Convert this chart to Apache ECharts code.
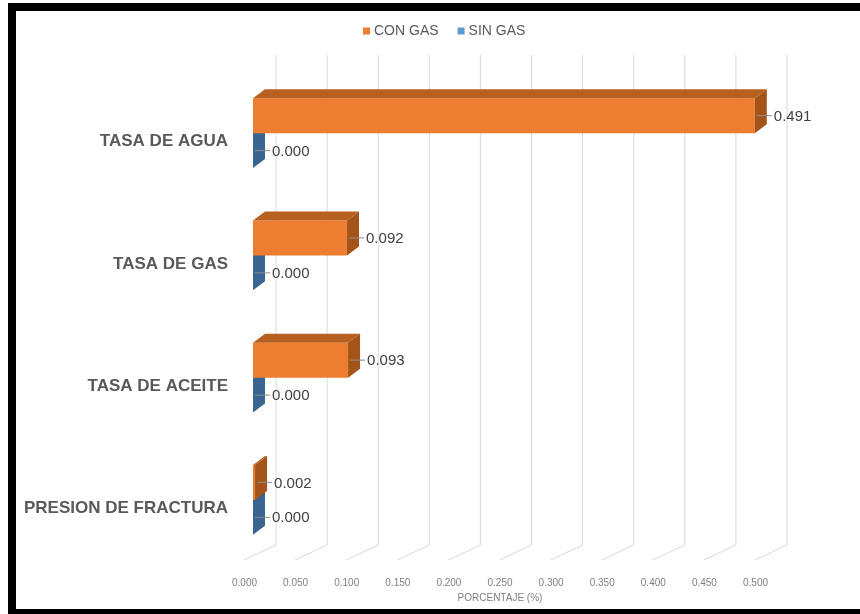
<!DOCTYPE html>
<html>
<head>
<meta charset="utf-8">
<script src="https://cdn.jsdelivr.net/npm/echarts@6/dist/echarts.min.js"></script>
<style>
html,body{margin:0;padding:0;background:#fff;}
#chart{width:860px;height:614px;}
</style>
</head>
<body>
<div id="chart"></div>
<script>
var categories = ['TASA DE AGUA', 'TASA DE GAS', 'TASA DE ACEITE', 'PRESION DE FRACTURA'];
var conGas = [0.491, 0.092, 0.093, 0.002];
var sinGas = [0.000, 0.000, 0.000, 0.000];
var xTicks = [0, 0.05, 0.1, 0.15, 0.2, 0.25, 0.3, 0.35, 0.4, 0.45, 0.5];
var seriesNames = ['CON GAS', 'SIN GAS'];

var DX = 12, DY = -9;
var colors = {
  'CON GAS': {front: '#ED7D31', top: '#B8601F', side: '#A55419', legend: '#ED7D31'},
  'SIN GAS': {front: '#4F83B5', top: '#3A6591', side: '#3A6591', legend: '#5B9BD5'}
};

function makeBarRender(name, slot) {
  var c = colors[name];
  return function (params, api) {
    var v = api.value(0), cat = api.value(1);
    var p0 = api.coord([0, cat]);
    var p1 = api.coord([v, cat]);
    var band = api.size([0, 1])[1];
    var h = band * 0.286;
    var y0 = slot === 0 ? p0[1] - h : p0[1];
    var y1 = y0 + h;
    var x0 = p0[0], x1 = p1[0];
    var yc = (y0 + y1) / 2;
    return {
      type: 'group',
      children: [
        {type: 'rect', shape: {x: x0, y: y0, width: x1 - x0, height: h}, style: {fill: c.front}},
        {type: 'polygon', shape: {points: [[x0, y0], [x1, y0], [x1 + DX, y0 + DY], [x0 + DX, y0 + DY]]}, style: {fill: c.top}},
        {type: 'polygon', shape: {points: [[x1, y0], [x1 + DX, y0 + DY], [x1 + DX, y1 + DY], [x1, y1]]}, style: {fill: c.side}},
        {type: 'line', shape: {x1: x1 + 2, y1: yc, x2: x1 + 17, y2: yc}, style: {stroke: '#8c8c8c', lineWidth: 1}},
        {type: 'text', style: {x: x1 + 19, y: yc + 1, text: v.toFixed(3), fill: '#404040', font: '15px "Liberation Sans", Arial, sans-serif', verticalAlign: 'middle', align: 'left'}}
      ]
    };
  };
}

function gridRender(params, api) {
  var v = api.value(0);
  var p = api.coord([v, 0]);
  var cs = params.coordSys;
  var bottom = cs.y + cs.height;
  var x = p[0];
  return {
    type: 'polyline',
    shape: {points: [[x + 23, cs.y - 17], [x + 23, bottom - 16], [x - 9, bottom - 1]]},
    style: {stroke: '#d9d9d9', lineWidth: 1, fill: null}
  };
}

var chart = echarts.init(document.getElementById('chart'), null, {renderer: 'canvas'});
var option = {
  animation: false,
  backgroundColor: '#ffffff',
  textStyle: {fontFamily: '"Liberation Sans", Arial, sans-serif'},
  legend: {
    left: 358,
    top: 19,
    icon: 'rect',
    itemWidth: 7,
    itemHeight: 7,
    itemGap: 19,
    textStyle: {fontSize: 14, color: '#595959', padding: [0, 0, 0, -1]},
    data: [
      {name: 'CON GAS', itemStyle: {color: colors['CON GAS'].legend}},
      {name: 'SIN GAS', itemStyle: {color: colors['SIN GAS'].legend}}
    ]
  },
  grid: {left: 253, right: 96, top: 72, bottom: 53, containLabel: false},
  xAxis: {
    type: 'value',
    min: 0,
    max: 0.5,
    interval: 0.05,
    name: 'PORCENTAJE (%)',
    nameLocation: 'middle',
    nameGap: 30,
    nameTextStyle: {fontSize: 10, color: '#7f7f7f', padding: [0, 17, 0, 0]},
    axisLine: {show: false},
    axisTick: {show: false},
    splitLine: {show: false},
    axisLabel: {
      fontSize: 10, color: '#7f7f7f', margin: 17, padding: [0, 17, 0, 0],
      formatter: function (v) { return v.toFixed(3); }
    }
  },
  yAxis: {
    type: 'category',
    inverse: true,
    data: categories,
    axisLine: {show: false},
    axisTick: {show: false},
    splitLine: {show: false},
    axisLabel: {
      margin: 25,
      formatter: function (v) { return '{a|' + v + '}'; },
      rich: {
        a: {fontSize: 17, fontWeight: 'bold', color: '#595959', padding: [17, 0, 0, 0]}
      }
    }
  },
  series: [
    {
      name: 'grid3d',
      type: 'custom',
      z: 1,
      silent: true,
      renderItem: gridRender,
      encode: {x: 0, y: 1},
      data: xTicks.map(function (t) { return [t, 0]; })
    },
    {
      name: seriesNames[0],
      type: 'custom',
      z: 3,
      itemStyle: {color: colors['CON GAS'].legend},
      renderItem: makeBarRender('CON GAS', 0),
      encode: {x: 0, y: 1},
      data: conGas.map(function (v, i) { return [v, i]; })
    },
    {
      name: seriesNames[1],
      type: 'custom',
      z: 2,
      itemStyle: {color: colors['SIN GAS'].legend},
      renderItem: makeBarRender('SIN GAS', 1),
      encode: {x: 0, y: 1},
      data: sinGas.map(function (v, i) { return [v, i]; })
    }
  ],
  graphic: [
    {type: 'rect', silent: true, z: 100, shape: {x: 8, y: 3, width: 852, height: 8}, style: {fill: '#000'}},
    {type: 'rect', silent: true, z: 100, shape: {x: 8, y: 3, width: 8, height: 611}, style: {fill: '#000'}},
    {type: 'rect', silent: true, z: 100, shape: {x: 8, y: 609, width: 852, height: 5}, style: {fill: '#000'}}
  ]
};
chart.setOption(option);
</script>
</body>
</html>
